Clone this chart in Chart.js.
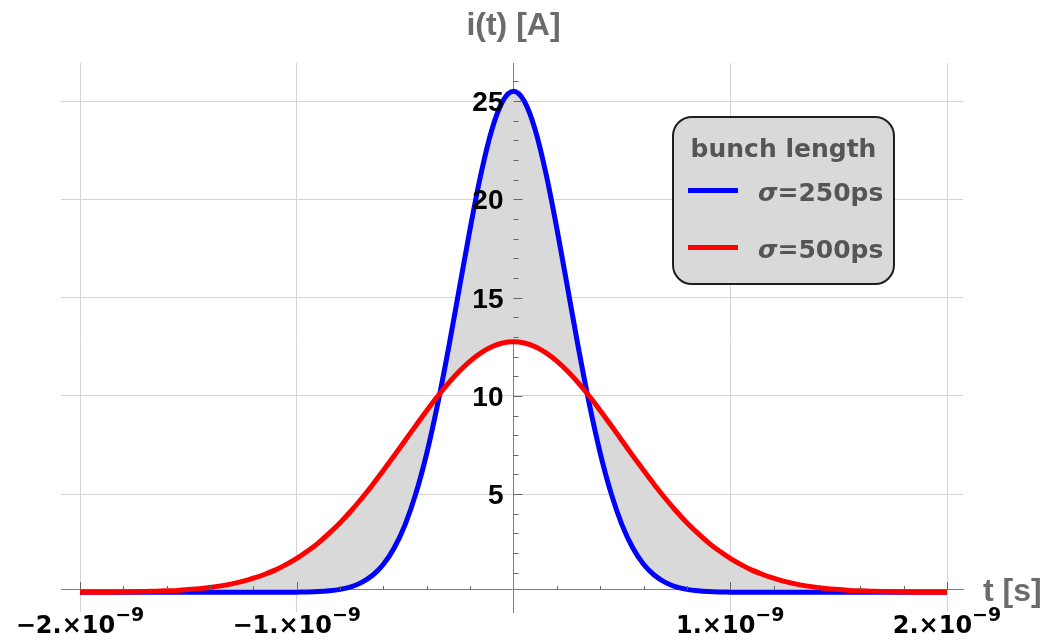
<!DOCTYPE html>
<html>
<head>
<meta charset="utf-8">
<script src="https://cdn.jsdelivr.net/npm/chart.js@4.4.1/dist/chart.umd.min.js"></script>
<style>
  html, body { margin: 0; padding: 0; background: #fff; }
  #wrap { position: relative; width: 1053px; height: 642px; }
  #legend {
    position: absolute; left: 672px; top: 116px; width: 223px; height: 169px;
    box-sizing: border-box; border: 2px solid #1e1e1e; border-radius: 20px;
    background: #d9d9d9; font-family: "DejaVu Sans", sans-serif; font-weight: bold;
    color: #555; font-size: 25px;
  }
  #legend .title { position: absolute; left: 0; right: 0; top: 18px; line-height: 25px; text-align: center; }
  #legend .row { position: absolute; left: 0; right: 0; height: 30px; }
  #legend .swatch { position: absolute; left: 14px; width: 50px; height: 5px; }
  #legend .txt { position: absolute; left: 84px; top: 0; line-height: 30px; }
</style>
</head>
<body>
<div id="wrap">
  <canvas id="myChart"></canvas>
  <div id="legend"><div class="title">bunch length</div></div>
</div>
<script>
// time in ns
const timeNs = [
  -2.00, -1.95, -1.90, -1.85, -1.80, -1.75, -1.70, -1.65, -1.60, -1.55,
  -1.50, -1.45, -1.40, -1.35, -1.30, -1.25, -1.20, -1.15, -1.10, -1.05,
  -1.00, -0.95, -0.90, -0.85, -0.80, -0.75, -0.70, -0.65, -0.60, -0.55,
  -0.50, -0.45, -0.40, -0.35, -0.30, -0.25, -0.20, -0.15, -0.10, -0.05,
  0.00,
  0.05, 0.10, 0.15, 0.20, 0.25, 0.30, 0.35, 0.40, 0.45, 0.50,
  0.55, 0.60, 0.65, 0.70, 0.75, 0.80, 0.85, 0.90, 0.95, 1.00,
  1.05, 1.10, 1.15, 1.20, 1.25, 1.30, 1.35, 1.40, 1.45, 1.50,
  1.55, 1.60, 1.65, 1.70, 1.75, 1.80, 1.85, 1.90, 1.95, 2.00
];
// current in A, sigma = 250 ps
const current250 = [
  0, 0, 0, 0, 0, 0, 0, 0, 0, 0,
  0, 0, 0, 0, 0, 0, 0, 0, 0, 0,
  0.01, 0.02, 0.04, 0.08, 0.15, 0.28, 0.51, 0.87, 1.43, 2.27,
  3.45, 5.05, 7.09, 9.57, 12.41, 15.47, 18.52, 21.30, 23.54, 24.99,
  25.5,
  24.99, 23.54, 21.30, 18.52, 15.47, 12.41, 9.57, 7.09, 5.05, 3.45,
  2.27, 1.43, 0.87, 0.51, 0.28, 0.15, 0.08, 0.04, 0.02, 0.01,
  0, 0, 0, 0, 0, 0, 0, 0, 0, 0,
  0, 0, 0, 0, 0, 0, 0, 0, 0, 0
];
// current in A, sigma = 500 ps
const current500 = [
  0.00, 0.00, 0.01, 0.01, 0.02, 0.03, 0.04, 0.06, 0.08, 0.10,
  0.14, 0.19, 0.25, 0.33, 0.43, 0.56, 0.72, 0.91, 1.13, 1.41,
  1.73, 2.10, 2.52, 3.01, 3.54, 4.14, 4.79, 5.48, 6.21, 6.96,
  7.73, 8.50, 9.26, 9.98, 10.65, 11.25, 11.77, 12.19, 12.50, 12.69,
  12.75,
  12.69, 12.50, 12.19, 11.77, 11.25, 10.65, 9.98, 9.26, 8.50, 7.73,
  6.96, 6.21, 5.48, 4.79, 4.14, 3.54, 3.01, 2.52, 2.10, 1.73,
  1.41, 1.13, 0.91, 0.72, 0.56, 0.43, 0.33, 0.25, 0.19, 0.14,
  0.10, 0.08, 0.06, 0.04, 0.03, 0.02, 0.01, 0.01, 0.00, 0.00
];
const seriesLabels = ['σ=250ps', 'σ=500ps'];
const seriesColors = ['#0000ff', '#ff0000'];
const xTickValues = [-2e-9, -1e-9, 1e-9, 2e-9];
const yTickValues = [5, 10, 15, 20, 25];

const xAxisAt = 0.12;   // mathematica put the t axis a hair above 0
const xMinorStep = 0.2e-9;

const toPoints = (ys) => ys.map((v, i) => ({ x: timeNs[i] * 1e-9, y: v }));

// ticks pointing inward, tick labels (x ones with exponent), axis labels
const axesDecor = {
  id: 'axesDecor',
  afterDatasetsDraw(chart) {
    const { ctx, chartArea, scales: { x, y } } = chart;
    const x0 = x.getPixelForValue(0);
    const y0 = y.getPixelForValue(xAxisAt);
    ctx.save();
    ctx.strokeStyle = '#666';
    ctx.lineWidth = 1;
    ctx.beginPath();
    for (let k = -10; k <= 10; k++) {
      if (k === 0) continue;
      const px = Math.round(x.getPixelForValue(k * xMinorStep)) + 0.5;
      const len = k % 5 === 0 ? 8 : 4;
      ctx.moveTo(px, y0);
      ctx.lineTo(px, y0 - len);
    }
    for (let k = 1; k <= Math.floor(y.max); k++) {
      const py = Math.round(y.getPixelForValue(k)) + 0.5;
      const len = k % 5 === 0 ? 9 : 5;
      ctx.moveTo(x0, py);
      ctx.lineTo(x0 + len, py);
    }
    ctx.stroke();

    ctx.fillStyle = '#000';
    ctx.textBaseline = 'alphabetic';
    ctx.textAlign = 'right';
    ctx.font = 'bold 28px "Liberation Sans"';
    yTickValues.forEach(v => {
      ctx.fillText(String(v), x0 - 10, y.getPixelForValue(v) + 10);
    });

    ctx.textAlign = 'left';
    const baseFont = 'bold 24px "DejaVu Sans"';
    const supFont = 'bold 19px "DejaVu Sans"';
    xTickValues.forEach(v => {
      const m = Math.round(v / 1e-9);
      const base = (m < 0 ? '−' : '') + Math.abs(m) + '.×10';
      const sup = '−9';
      ctx.font = baseFont;
      const wb = ctx.measureText(base).width;
      ctx.font = supFont;
      const ws = ctx.measureText(sup).width;
      const left = x.getPixelForValue(v) - (wb + ws) / 2;
      ctx.font = baseFont;
      ctx.fillText(base, left, y0 + 43);
      ctx.font = supFont;
      ctx.fillText(sup, left + wb, y0 + 31);
    });

    ctx.fillStyle = '#6b6b6b';
    ctx.font = 'bold 32px "Liberation Sans"';
    ctx.textAlign = 'center';
    ctx.fillText('i(t) [A]', x0, chartArea.top - 28);
    ctx.textAlign = 'left';
    ctx.fillText('t [s]', chartArea.right + 20, y0 + 11);
    ctx.restore();
  }
};

const ctx = document.getElementById('myChart').getContext('2d');
const chart = new Chart(ctx, {
  type: 'line',
  data: {
    datasets: [{
      label: seriesLabels[0],
      data: toPoints(current250),
      borderColor: seriesColors[0],
      borderWidth: 5,
      pointRadius: 0,
      cubicInterpolationMode: 'monotone',
      fill: 1,
      backgroundColor: '#d9d9d9',
      order: 1
    }, {
      label: seriesLabels[1],
      data: toPoints(current500),
      borderColor: seriesColors[1],
      borderWidth: 5,
      pointRadius: 0,
      cubicInterpolationMode: 'monotone',
      fill: false,
      order: 0
    }]
  },
  options: {
    responsive: true,
    maintainAspectRatio: false,
    animation: false,
    layout: { padding: { left: 61, right: 90, top: 63, bottom: 30 } },
    plugins: {
      legend: { display: false },
      tooltip: { enabled: false },
      filler: { drawTime: 'beforeDatasetsDraw' }
    },
    scales: {
      x: {
        type: 'linear',
        min: -2.0877e-9,
        max: 2.0738e-9,
        position: { y: xAxisAt },
        afterBuildTicks: (scale) => { scale.ticks = xTickValues.map(v => ({ value: v })); },
        ticks: { display: false },
        grid: { color: '#d4d4d4', drawTicks: false },
        border: { color: '#7f7f7f', width: 1 }
      },
      y: {
        type: 'linear',
        min: -1.0,
        max: 26.94,
        position: { x: 0 },
        afterBuildTicks: (scale) => { scale.ticks = yTickValues.map(v => ({ value: v })); },
        ticks: { display: false },
        grid: { color: '#d4d4d4', drawTicks: false },
        border: { color: '#7f7f7f', width: 1 }
      }
    }
  },
  plugins: [axesDecor]
});

// legend box built from the datasets
const legendEl = document.getElementById('legend');
const rowCenters = [75, 132];
chart.data.datasets.forEach((ds, i) => {
  const row = document.createElement('div');
  row.className = 'row';
  row.style.top = (rowCenters[i] - 15) + 'px';
  const sw = document.createElement('div');
  sw.className = 'swatch';
  sw.style.background = ds.borderColor;
  sw.style.top = '10px';
  const txt = document.createElement('div');
  txt.className = 'txt';
  txt.innerHTML = '<i>σ</i>' + ds.label.slice(1);
  row.appendChild(sw);
  row.appendChild(txt);
  legendEl.appendChild(row);
});
</script>
</body>
</html>
